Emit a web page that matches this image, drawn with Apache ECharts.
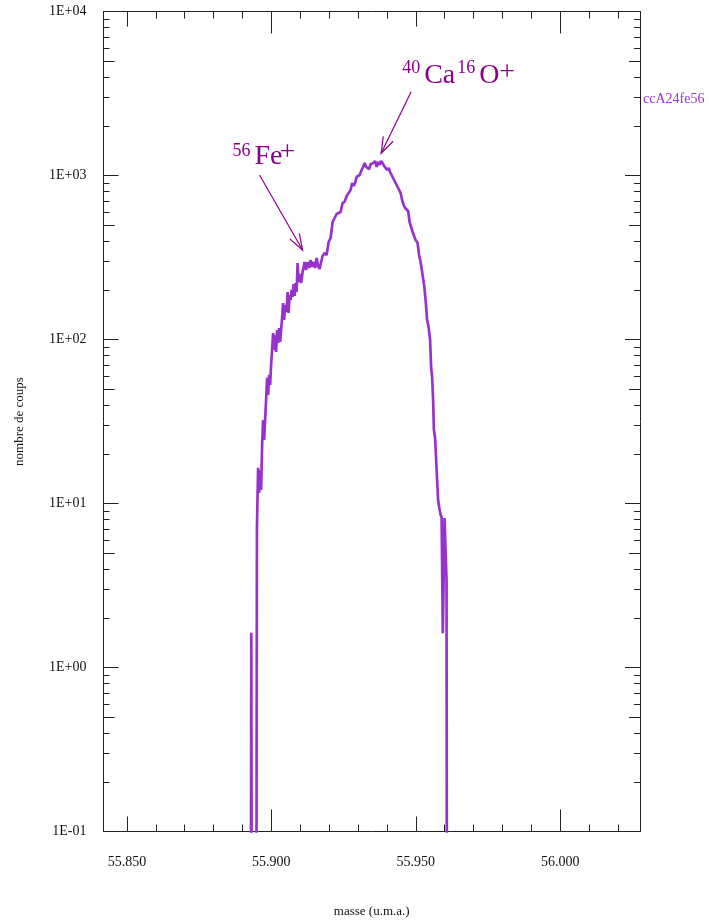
<!DOCTYPE html>
<html><head><meta charset="utf-8">
<script src="https://cdn.jsdelivr.net/npm/echarts@6/dist/echarts.min.js"></script>
<style>html,body{margin:0;padding:0;background:#fff}#c{width:709px;height:920px}</style>
</head><body><div id="c"></div>
<script>
// ---- data (mass in u.m.a., counts) ----
const seriesName = 'ccA24fe56';
const masses = [
55.89278, 55.89306, 55.89334, 55.89472, 55.89500, 55.89541, 55.89576, 55.89611, 55.89645, 55.89680,
55.89715, 55.89749, 55.89784, 55.89818, 55.89853, 55.89888, 55.89922, 55.89957, 55.89991, 55.90026,
55.90061, 55.90095, 55.90130, 55.90164, 55.90199, 55.90234, 55.90268, 55.90303, 55.90337, 55.90372,
55.90407, 55.90441, 55.90476, 55.90528, 55.90563, 55.90597, 55.90632, 55.90666, 55.90701, 55.90736,
55.90770, 55.90805, 55.90839, 55.90874, 55.90909, 55.90943, 55.90978, 55.91030, 55.91082, 55.91151,
55.91203, 55.91255, 55.91307, 55.91359, 55.91411, 55.91463, 55.91514, 55.91566, 55.91618, 55.91670,
55.91722, 55.91774, 55.91843, 55.91913, 55.91982, 55.92051, 55.92120, 55.92189, 55.92259, 55.92328,
55.92397, 55.92466, 55.92536, 55.92605, 55.92674, 55.92743, 55.92795, 55.92847, 55.92899, 55.92951,
55.93003, 55.93055, 55.93124, 55.93176, 55.93228, 55.93280, 55.93332, 55.93384, 55.93436, 55.93487,
55.93539, 55.93591, 55.93643, 55.93695, 55.93747, 55.93799, 55.93851, 55.93903, 55.93955, 55.94007,
55.94059, 55.94110, 55.94162, 55.94214, 55.94266, 55.94318, 55.94370, 55.94422, 55.94474, 55.94526,
55.94578, 55.94630, 55.94682, 55.94734, 55.94785, 55.94837, 55.94889, 55.94941, 55.94993, 55.95062,
55.95114, 55.95166, 55.95235, 55.95287, 55.95339, 55.95391, 55.95443, 55.95495, 55.95529, 55.95564,
55.95599, 55.95626, 55.95668, 55.95720, 55.95772, 55.95807, 55.95859, 55.95893, 55.95935, 55.95995,
55.96063, 55.96087, 55.96110
];
const counts = [
0, 1.63, 0, 0, 6.9, 16.5, 11.6, 16.0, 12.1, 22.7,
32.3, 24.4, 32.3, 42.8, 58.3, 45.9, 60.8, 52.8, 69.9, 86.3,
109.5, 86.3, 106.5, 83.9, 114.3, 95.2, 117.5, 96.6, 114.3, 135.2,
167.0, 131.5, 162.3, 147.1, 194.9, 145.0, 186.8, 174.1, 200.4, 181.6,
218.0, 184.2, 221.1, 194.9, 292.8, 224.2, 250.9, 221.1, 257.9, 296.9,
265.3, 296.9, 272.9, 305.4, 276.8, 296.9, 272.9, 314.1, 280.7, 269.1,
296.9, 322.9, 336.8, 327.5, 393.1, 415.8, 520.6, 550.6, 582.4, 590.6,
599.0, 679.8, 690, 749.9, 782.4, 815.9, 900.1, 863.0, 900.1, 979.3,
993.1, 1007, 1080, 1127, 1192, 1127, 1143, 1095, 1175, 1143,
1192, 1226, 1127, 1209, 1159, 1226, 1192, 1143, 1175, 1080,
1111, 1050, 1007, 1035, 925.7, 887.5, 900.1, 815.9, 782.4, 708.9,
661.0, 633.6, 616.1, 607.5, 520.6, 485.3, 452.3, 427.6, 404.3, 387.6,
327.5, 296.9, 247.4, 215.0, 174.1, 131.5, 119.2, 99.3, 68.0, 59.1,
42.8, 28.1, 25.1, 16.0, 10.5, 9.52, 8.51, 8.27, 1.62, 8.16,
3.42, 0, 0
];

// ---- axes / ticks ----
const xRange = [55.8419, 56.0276];
const xLabelValues = [55.85, 55.90, 55.95, 56.00];
const xMediumTicks = [55.85, 55.95];
const xTallTicks = [55.90, 56.00];
const xMinorTicks = [55.86, 55.87, 55.88, 55.89, 55.91, 55.92, 55.93, 55.94, 55.96, 55.97, 55.98, 55.99, 56.01, 56.02];
const yRange = [0.1, 10000];
const yDecadeExponents = [-1, 0, 1, 2, 3];
const yMinorMultipliers = [2, 3, 4, 6, 7, 8, 9];
const yMidMultipliers = [5];

// ---- annotations (data coordinates) ----
const feArrowTail = [55.8959, 1007];
const feArrowHead = [55.9108, 351];
const caArrowTail = [55.9484, 3243];
const caArrowHead = [55.9380, 1366];

const FONT = "'Liberation Serif','Times New Roman',serif";
const AX = '#222';
const LINE = '#9932CC';
const ANN = '#8B008B';

function logTicks(mults) {
  const out = [];
  yDecadeExponents.forEach(e => mults.forEach(k => out.push(Math.log10(k) + e)));
  return out;
}
const yMinorLog = logTicks(yMinorMultipliers);
const yMidLog = logTicks(yMidMultipliers);

function xAx(pos, ticks, len, withLine, withLabels) {
  const a = {
    type: 'value', position: pos, min: xRange[0], max: xRange[1],
    axisLine: { show: withLine, onZero: false, lineStyle: { color: AX, width: 1 } },
    axisTick: { show: true, inside: true, length: len, customValues: ticks, lineStyle: { color: AX, width: 1 } },
    axisLabel: { show: false },
    splitLine: { show: false }
  };
  if (withLabels) {
    a.axisLabel = { show: true, customValues: xLabelValues, formatter: v => v.toFixed(3),
      margin: 24, fontFamily: FONT, fontSize: 14, color: '#111' };
    a.name = 'masse (u.m.a.)';
    a.nameLocation = 'middle';
    a.nameGap = 74;
    a.nameTextStyle = { fontFamily: FONT, fontSize: 13, color: '#111' };
  }
  return a;
}
function yLogAx(pos, withLabels) {
  const a = {
    type: 'log', logBase: 10, position: pos, min: yRange[0], max: yRange[1],
    axisLine: { show: true, onZero: false, lineStyle: { color: AX, width: 1 } },
    axisTick: { show: true, inside: true, length: 15, lineStyle: { color: AX, width: 1 } },
    axisLabel: { show: false },
    splitLine: { show: false }, minorTick: { show: false }
  };
  if (withLabels) {
    a.axisLabel = { show: true, margin: 17, fontFamily: FONT, fontSize: 14, color: '#111',
      formatter: v => { const e = Math.round(Math.log10(v)); return '1E' + (e < 0 ? '-' : '+') + String(Math.abs(e)).padStart(2, '0'); } };
    a.name = 'nombre de coups';
    a.nameLocation = 'middle';
    a.nameGap = 77;
    a.nameTextStyle = { fontFamily: FONT, fontSize: 13, color: '#111' };
  }
  return a;
}
function yTickAx(pos, ticks, len) {
  return {
    type: 'value', position: pos, min: Math.log10(yRange[0]), max: Math.log10(yRange[1]),
    axisLine: { show: false, onZero: false },
    axisTick: { show: true, inside: true, length: len, customValues: ticks, lineStyle: { color: AX, width: 1 } },
    axisLabel: { show: false }, splitLine: { show: false }
  };
}

const chart = echarts.init(document.getElementById('c'), null, { renderer: 'canvas' });
chart.setOption({
  animation: false,
  backgroundColor: '#fff',
  grid: { left: 103.5, right: 69, top: 11.5, bottom: 88.5, containLabel: false, outerBoundsMode: 'none' },
  legend: {
    data: [seriesName], left: 633, top: 87, icon: 'none', itemWidth: 0, itemHeight: 14,
    selectedMode: false,
    textStyle: { fontFamily: FONT, fontSize: 14, color: LINE }
  },
  xAxis: [
    xAx('bottom', xMediumTicks, 15, true, true),
    xAx('bottom', xTallTicks, 22, false, false),
    xAx('bottom', xMinorTicks, 7, false, false),
    xAx('top', xMediumTicks, 15, true, false),
    xAx('top', xTallTicks, 22, false, false),
    xAx('top', xMinorTicks, 7, false, false)
  ],
  yAxis: [
    yLogAx('left', true),
    yTickAx('left', yMidLog, 11),
    yTickAx('left', yMinorLog, 6),
    yLogAx('right', false),
    yTickAx('right', yMidLog, 11),
    yTickAx('right', yMinorLog, 6)
  ],
  series: [{
    name: seriesName, type: 'line', xAxisIndex: 0, yAxisIndex: 0,
    // zero counts cannot be shown on a log axis: put them below the visible range (clipped)
    data: masses.map((m, i) => [m, counts[i] > 0 ? counts[i] : 1e-3]),
    showSymbol: false, symbol: 'none', clip: true,
    lineStyle: { color: LINE, width: 2.7 }, itemStyle: { color: LINE }
  }]
});

function px(p) { return chart.convertToPixel({ xAxisIndex: 0, yAxisIndex: 0 }, p); }
function arrow(tail, head) {
  const p0 = px(tail), p1 = px(head);
  const ang = Math.atan2(p1[1] - p0[1], p1[0] - p0[0]);
  const L = 17, a = 0.33;
  const b1 = [p1[0] - L * Math.cos(ang - a), p1[1] - L * Math.sin(ang - a)];
  const b2 = [p1[0] - L * Math.cos(ang + a), p1[1] - L * Math.sin(ang + a)];
  return [
    { type: 'line', shape: { x1: p0[0], y1: p0[1], x2: p1[0], y2: p1[1] }, style: { stroke: ANN, lineWidth: 1.2 } },
    { type: 'polyline', shape: { points: [b1, p1, b2] }, style: { stroke: ANN, fill: null, lineWidth: 1.2 } }
  ];
}
function txt(base, dx, dy, s, size) {
  return { type: 'text', x: base[0] + dx, y: base[1] + dy,
    style: { text: s, fill: ANN, fontFamily: FONT, fontSize: size, align: 'left', verticalAlign: 'middle' } };
}
const fe = px(feArrowTail), ca = px(caArrowTail);
chart.setOption({
  graphic: [].concat(
    arrow(feArrowTail, feArrowHead),
    arrow(caArrowTail, caArrowHead),
    [
      txt(fe, -27, -24, '56', 18), txt(fe, -5, -18, 'Fe', 28), txt(fe, 20, -22, '+', 28),
      txt(ca, -9, -23, '40', 18), txt(ca, 13, -16, 'Ca', 28), txt(ca, 46, -23, '16', 18),
      txt(ca, 68, -16, 'O', 28), txt(ca, 88, -19, '+', 28)
    ]
  )
});
</script>
</body></html>
